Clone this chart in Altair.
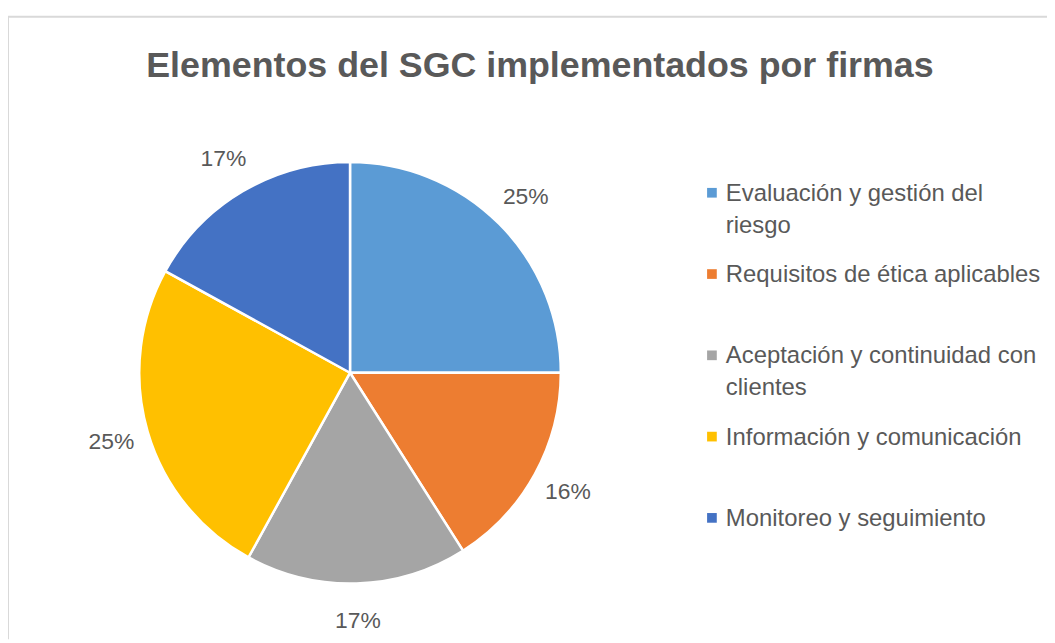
import altair as alt
import pandas as pd

categories = [
    "Evaluación y gestión del riesgo",
    "Requisitos de ética aplicables",
    "Aceptación y continuidad con clientes",
    "Información y comunicación",
    "Monitoreo y seguimiento",
]
legend_labels = [
    "Evaluación y gestión del\nriesgo",
    "Requisitos de ética aplicables",
    "Aceptación y continuidad con\nclientes",
    "Información y comunicación",
    "Monitoreo y seguimiento",
]
values = [25, 16, 17, 25, 17]
colors = ["#5B9BD5", "#ED7D31", "#A5A5A5", "#FFC000", "#4472C4"]
title_text = "Elementos del SGC implementados por firmas"

df = pd.DataFrame({"cat": categories, "leg": legend_labels, "val": values, "idx": list(range(len(values)))})
df["pct"] = df["val"].astype(str) + "%"

FONT = "Liberation Sans, sans-serif"
TXT = "#595959"
BORDER = "#D9D9D9"
CX, CY = 344, 358
W, H = 1045, 626

color = alt.Color("cat:N", scale=alt.Scale(domain=categories, range=colors), legend=None)
theta = alt.Theta("val:Q", stack=True)
order = alt.Order("idx:O")

base = alt.Chart(df)

pie = base.mark_arc(outerRadius=212, stroke="white", strokeWidth=2.5).encode(
    theta=theta, order=order, color=color, x=alt.value(CX), y=alt.value(CY)
)

labels = base.mark_text(radius=250, font=FONT, fontSize=23, color=TXT, baseline="middle", align="center").encode(
    theta=theta, order=order, text="pct:N", x=alt.value(CX), y=alt.value(CY)
)

ly = alt.Y("cat:N", scale=alt.Scale(domain=categories, range=[177, 504], type="point", padding=0), axis=None)

leg_sq = base.mark_square(size=95, opacity=1, filled=True).encode(
    x=alt.value(708), y=ly, color=color
)
leg_txt = base.mark_text(align="left", baseline="alphabetic", dy=8, font=FONT, fontSize=24,
                         color=TXT, lineBreak="\n", lineHeight=32).encode(
    x=alt.value(722), y=ly, text="leg:N"
)

title = alt.Chart(pd.DataFrame({"t": [title_text]})).mark_text(
    align="center", baseline="alphabetic", font=FONT, fontSize=36, fontWeight="bold", color=TXT
).encode(x=alt.value(535), y=alt.value(61), text="t:N")

border_top = alt.Chart(pd.DataFrame({"k": [0]})).mark_rule(color=BORDER, strokeWidth=2).encode(
    x=alt.value(0), x2=alt.value(W), y=alt.value(0)
)
border_left = alt.Chart(pd.DataFrame({"k": [0]})).mark_rule(color=BORDER, strokeWidth=2).encode(
    x=alt.value(0), y=alt.value(0), y2=alt.value(H)
)

chart = alt.layer(border_top, border_left, pie, labels, leg_sq, leg_txt, title).properties(
    width=W, height=H,
    padding={"left": 0, "top": 7, "right": 0, "bottom": 0},
    autosize=alt.AutoSizeParams(type="none"),
).configure_view(strokeWidth=0)

chart.save("out.html", embed_options={"renderer": "svg", "actions": False})
